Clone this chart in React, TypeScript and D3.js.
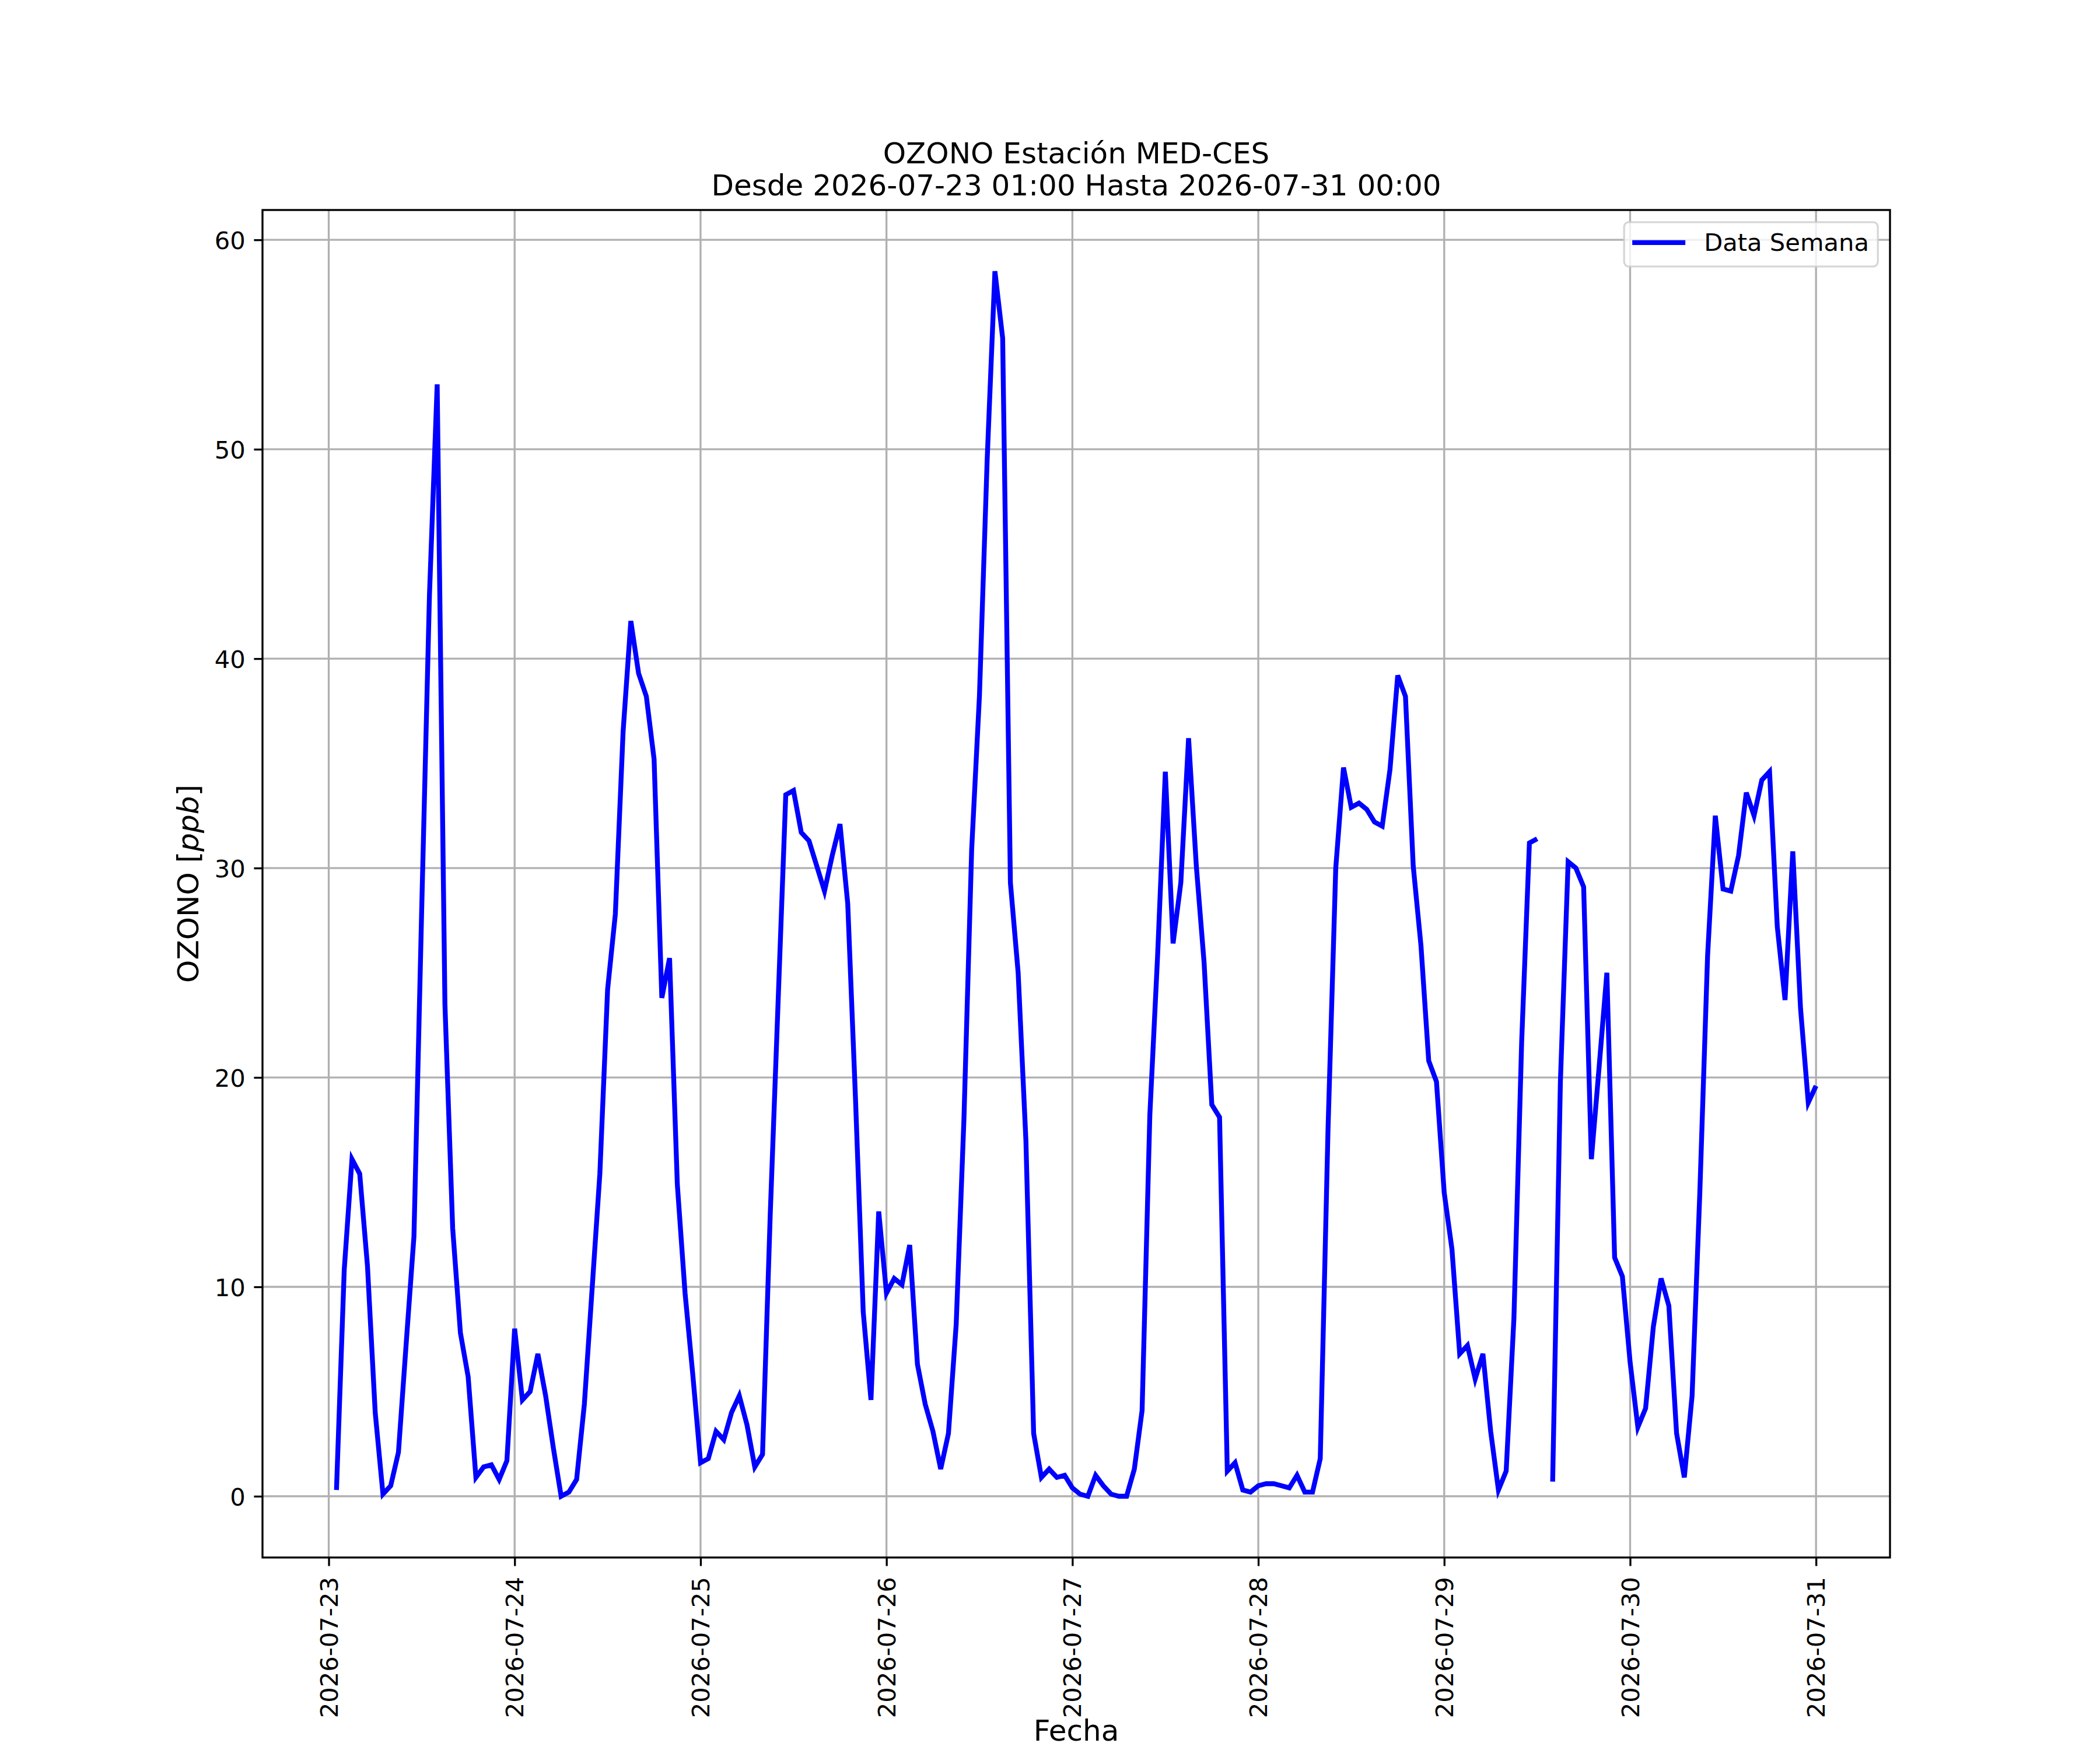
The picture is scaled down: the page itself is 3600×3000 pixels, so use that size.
import * as d3 from 'd3';
import React, { useEffect, useRef } from 'react';

// Hourly ozone readings (ppb).
// First value is 2026-07-23 01:00, last value is 2026-07-31 00:00.
const day23 = [0.3, 10.8, 16.1, 15.4, 11.0, 4.0, 0.1, 0.5, 2.1, 7.3, 12.4, 28.0, 43.0, 53.1, 23.5, 12.8, 7.8, 5.7, 0.9, 1.4, 1.5, 0.8, 1.7];
const day24 = [8.0, 4.6, 5.0, 6.8, 4.8, 2.3, 0.0, 0.2, 0.8, 4.4, 9.9, 15.4, 24.2, 27.8, 36.5, 41.8, 39.3, 38.2, 35.2, 23.8, 25.7, 14.9, 9.7, 5.8];
const day25 = [1.6, 1.8, 3.1, 2.7, 4.0, 4.8, 3.4, 1.4, 2.0, 13.5, 23.5, 33.5, 33.7, 31.7, 31.3, 30.1, 28.9, 30.6, 32.1, 28.3, 19.0, 8.8, 4.6, 13.6];
const day26 = [9.7, 10.4, 10.1, 12.0, 6.3, 4.4, 3.1, 1.3, 3.0, 8.2, 18.0, 30.9, 38.2, 49.5, 58.5, 55.3, 29.3, 25.0, 17.0, 3.0, 0.9, 1.3, 0.9, 1.0];
const day27 = [0.4, 0.1, 0.0, 1.0, 0.5, 0.1, 0.0, 0.0, 1.3, 4.1, 18.2, 25.8, 34.6, 26.4, 29.3, 36.2, 30.1, 25.5, 18.7, 18.1, 1.2, 1.6, 0.3, 0.2];
const day28 = [0.5, 0.6, 0.6, 0.5, 0.4, 1.0, 0.2, 0.2, 1.8, 17.5, 30.0, 34.8, 32.9, 33.1, 32.8, 32.2, 32.0, 34.7, 39.2, 38.2, 30.1, 26.3, 20.8, 19.8];
const day29 = [14.5, 11.8, 6.8, 7.2, 5.6, 6.8, 3.1, 0.3, 1.2, 8.5, 21.7, 31.2, 31.4, null, 0.7, 19.8, 30.3, 30.0, 29.1, 16.1, 20.5, 25.0, 11.4, 10.5];
const day30 = [6.4, 3.3, 4.2, 8.1, 10.4, 9.1, 3.0, 0.9, 4.8, 14.5, 25.8, 32.5, 29.0, 28.9, 30.6, 33.6, 32.5, 34.2, 34.6, 27.2, 23.7, 30.8, 23.3, 18.8];
const day31 = [19.6];

const yTicks = [0, 10, 20, 30, 40, 50, 60];
const titleLines = ['OZONO Estación MED-CES', 'Desde 2026-07-23 01:00 Hasta 2026-07-31 00:00'];
const seriesLabel = 'Data Semana';

const values: (number | null)[] = [...day23, ...day24, ...day25, ...day26, ...day27, ...day28, ...day29, ...day30, ...day31];
const startMs = Date.UTC(2026, 6, 23, 1);
const data = values.map((v, i) => ({ t: new Date(startMs + i * 3600 * 1000), v }));

const W = 3600;
const H = 3000;
const FONT = '"DejaVu Sans", sans-serif';
const pt = 300 / 72; // matplotlib points -> px at 300 dpi

const App: React.FC = () => {
  const svgRef = useRef<SVGSVGElement>(null);

  useEffect(() => {
    if (!svgRef.current) return;
    const svg = d3.select(svgRef.current);
    svg.selectAll('*').remove();

    const margin = { top: 360, right: 360, bottom: 330, left: 450 };
    const innerW = W - margin.left - margin.right;
    const innerH = H - margin.top - margin.bottom;

    // 5% margins like matplotlib autoscaling
    const [t0, t1] = d3.extent(data, d => d.t.getTime()) as [number, number];
    const tPad = (t1 - t0) * 0.05;
    const x = d3.scaleUtc()
      .domain([new Date(t0 - tPad), new Date(t1 + tPad)])
      .range([0, innerW]);

    const defined = data.filter(d => d.v != null).map(d => d.v as number);
    const vMin = d3.min(defined) ?? 0;
    const vMax = d3.max(defined) ?? 60;
    const vPad = (vMax - vMin) * 0.05;
    const y = d3.scaleLinear()
      .domain([vMin - vPad, vMax + vPad])
      .range([innerH, 0]);

    svg.append('rect').attr('width', W).attr('height', H).attr('fill', 'white');

    const g = svg.append('g').attr('transform', `translate(${margin.left},${margin.top})`);

    const dayTicks = d3.utcDay.range(new Date(Date.UTC(2026, 6, 23)), new Date(Date.UTC(2026, 7, 1)));

    // grid
    g.append('g')
      .selectAll('line')
      .data(dayTicks)
      .join('line')
      .attr('x1', d => x(d)).attr('x2', d => x(d))
      .attr('y1', 0).attr('y2', innerH)
      .attr('stroke', '#b0b0b0')
      .attr('stroke-width', 0.8 * pt);

    g.append('g')
      .selectAll('line')
      .data(yTicks)
      .join('line')
      .attr('x1', 0).attr('x2', innerW)
      .attr('y1', d => y(d)).attr('y2', d => y(d))
      .attr('stroke', '#b0b0b0')
      .attr('stroke-width', 0.8 * pt);

    // data line
    const line = d3.line<{ t: Date; v: number | null }>()
      .defined(d => d.v != null)
      .x(d => x(d.t))
      .y(d => y(d.v as number));

    g.append('path')
      .datum(data)
      .attr('d', line)
      .attr('fill', 'none')
      .attr('stroke', '#0000ff')
      .attr('stroke-width', 2 * pt)
      .attr('stroke-linejoin', 'miter')
      .attr('stroke-linecap', 'butt');

    // x axis
    const xAxis = d3.axisBottom(x)
      .tickValues(dayTicks)
      .tickFormat(d => d3.utcFormat('%Y-%m-%d')(d as Date))
      .tickSize(3.5 * pt)
      .tickPadding(3.5 * pt);

    const xg = g.append('g')
      .attr('transform', `translate(0,${innerH})`)
      .call(xAxis);
    xg.select('.domain').remove();
    xg.selectAll('line').attr('stroke', 'black').attr('stroke-width', 0.8 * pt);
    xg.selectAll('text')
      .attr('transform', 'rotate(-90)')
      .attr('x', -(7 * pt + 4))
      .attr('y', 0)
      .attr('dy', '0.35em')
      .attr('text-anchor', 'end')
      .attr('fill', 'black')
      .style('font-family', FONT)
      .style('font-size', `${10 * pt}px`);

    // y axis
    const yAxis = d3.axisLeft(y)
      .tickValues(yTicks)
      .tickFormat(d3.format('d'))
      .tickSize(3.5 * pt)
      .tickPadding(3.5 * pt);

    const yg = g.append('g').call(yAxis);
    yg.select('.domain').remove();
    yg.selectAll('line').attr('stroke', 'black').attr('stroke-width', 0.8 * pt);
    yg.selectAll('text')
      .attr('fill', 'black')
      .attr('dy', '0.36em')
      .style('font-family', FONT)
      .style('font-size', `${10 * pt}px`);

    // spines
    g.append('rect')
      .attr('width', innerW)
      .attr('height', innerH)
      .attr('fill', 'none')
      .attr('stroke', 'black')
      .attr('stroke-width', 0.8 * pt);

    // legend (upper right)
    const legW = 435;
    const legH = 76;
    const legX = innerW - 0.5 * 10 * pt - legW;
    const legY = 0.5 * 10 * pt;
    const leg = g.append('g').attr('transform', `translate(${legX},${legY})`);
    leg.append('rect')
      .attr('width', legW)
      .attr('height', legH)
      .attr('rx', 8)
      .attr('fill', 'white')
      .attr('fill-opacity', 0.8)
      .attr('stroke', '#cccccc')
      .attr('stroke-opacity', 0.8)
      .attr('stroke-width', 0.8 * pt);
    leg.append('line')
      .attr('x1', 14).attr('x2', 105)
      .attr('y1', 35).attr('y2', 35)
      .attr('stroke', '#0000ff')
      .attr('stroke-width', 2 * pt);
    leg.append('text')
      .attr('x', 137)
      .attr('y', 49)
      .attr('fill', 'black')
      .style('font-family', FONT)
      .style('font-size', `${10 * pt}px`)
      .text(seriesLabel);

    // title
    titleLines.forEach((s, i) => {
      svg.append('text')
        .attr('x', margin.left + innerW / 2)
        .attr('y', 280 + i * 55)
        .attr('text-anchor', 'middle')
        .attr('fill', 'black')
        .style('font-family', FONT)
        .style('font-size', `${12 * pt}px`)
        .text(s);
    });

    // axis labels
    svg.append('text')
      .attr('x', margin.left + innerW / 2)
      .attr('y', 2984)
      .attr('text-anchor', 'middle')
      .attr('fill', 'black')
      .style('font-family', FONT)
      .style('font-size', `${12 * pt}px`)
      .text('Fecha');

    const yl = svg.append('text')
      .attr('transform', `translate(340,${margin.top + innerH / 2}) rotate(-90)`)
      .attr('text-anchor', 'middle')
      .attr('fill', 'black')
      .style('font-family', FONT)
      .style('font-size', `${12 * pt}px`);
    yl.append('tspan').text('OZONO [');
    yl.append('tspan').style('font-style', 'italic').text('ppb');
    yl.append('tspan').text(']');
  }, []);

  return (
    <svg
      ref={svgRef}
      width={W}
      height={H}
      style={{ position: 'absolute', left: 0, top: 0, display: 'block' }}
    />
  );
};

export default App;
